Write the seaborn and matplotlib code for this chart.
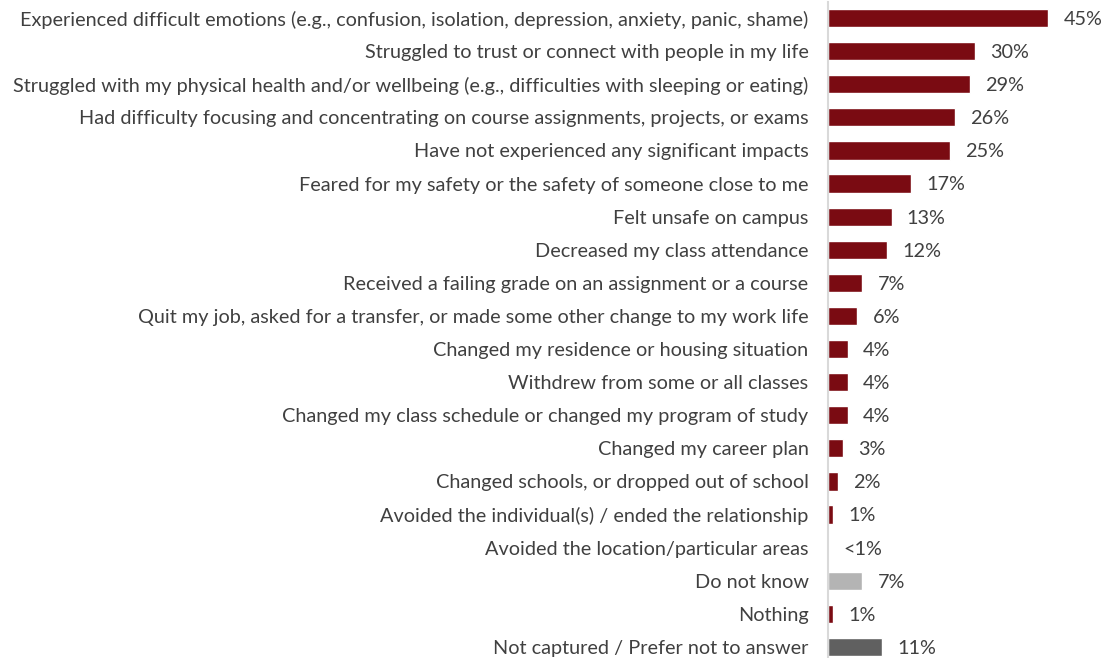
import matplotlib
matplotlib.use("Agg")
import matplotlib.pyplot as plt
import seaborn as sns
import pandas as pd

categories = [
    "Experienced difficult emotions (e.g., confusion, isolation, depression, anxiety, panic, shame)",
    "Struggled to trust or connect with people in my life",
    "Struggled with my physical health and/or wellbeing (e.g., difficulties with sleeping or eating)",
    "Had difficulty focusing and concentrating on course assignments, projects, or exams",
    "Have not experienced any significant impacts",
    "Feared for my safety or the safety of someone close to me",
    "Felt unsafe on campus",
    "Decreased my class attendance",
    "Received a failing grade on an assignment or a course",
    "Quit my job, asked for a transfer, or made some other change to my work life",
    "Changed my residence or housing situation",
    "Withdrew from some or all classes",
    "Changed my class schedule or changed my program of study",
    "Changed my career plan",
    "Changed schools, or dropped out of school",
    "Avoided the individual(s) / ended the relationship",
    "Avoided the location/particular areas",
    "Do not know",
    "Nothing",
    "Not captured / Prefer not to answer",
]
values = [45, 30, 29, 26, 25, 17, 13, 12, 7, 6, 4, 4, 4, 3, 2, 1, 0, 7, 1, 11]
value_labels = ["45%", "30%", "29%", "26%", "25%", "17%", "13%", "12%", "7%", "6%",
                "4%", "4%", "4%", "3%", "2%", "1%", "<1%", "7%", "1%", "11%"]
groups = ["impact"] * 17 + ["unknown", "impact", "missing"]

colors = {"impact": "#7A0B12", "unknown": "#B4B4B4", "missing": "#606060"}

df = pd.DataFrame({"category": categories, "value": values, "group": groups})

sns.set_theme(style="white")
plt.rcParams["font.family"] = ["Lato", "DejaVu Sans"]

W, H = 1103, 658
fig = plt.figure(figsize=(W / 100, H / 100), dpi=100)
ax = fig.add_axes([828 / W, 0, (W - 828) / W, (H - 1.5) / H])

sns.barplot(data=df, x="value", y="category", hue="group", palette=colors,
            saturation=1, dodge=False, legend=False, width=0.55, ax=ax, orient="h")

# value labels, one per bar, in category order (top to bottom)
bars = sorted([p for c in ax.containers for p in c], key=lambda p: p.get_y())
text_color = "#404040"
for p, lab in zip(bars, value_labels):
    ax.annotate(lab, (p.get_width(), p.get_y() + p.get_height() / 2),
                xytext=(11, -1), textcoords="offset points",
                ha="left", va="center", fontsize=14.3, color=text_color)

ax.set_xlim(0, (W - 828) / 4.89)
ax.set_ylim(19.335, -0.5)
ax.set_xlabel("")
ax.set_ylabel("")
ax.set_xticks([])
ax.tick_params(axis="y", length=0, pad=14, labelsize=14.3, labelcolor=text_color)
for s in ["top", "right", "bottom"]:
    ax.spines[s].set_visible(False)
ax.spines["left"].set_color("#D9D9D9")
ax.spines["left"].set_linewidth(1.5)

fig.savefig("out.png", dpi=100)
